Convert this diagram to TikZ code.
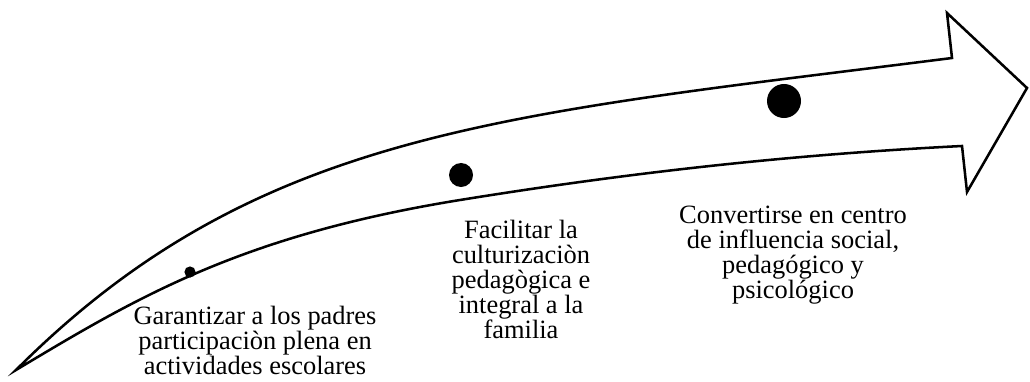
\documentclass[tikz,border=0pt]{standalone}
\usepackage{fontspec}
\setmainfont{Liberation Serif}
\usetikzlibrary{positioning}

\tikzset{
  outline/.style={line width=1.8pt, line join=miter},
  hito/.style={circle, fill=black, draw=none, inner sep=0pt},
  hitotext/.style={align=center, anchor=north, inner sep=0pt,
    font=\fontsize{18.8}{17.8}\selectfont}
}

\begin{document}
\begin{tikzpicture}[x=0.025cm, y=-0.025cm]
  \useasboundingbox (0,0) rectangle (1030,381);

  % Curved arrow: upper edge, head, lower edge back to the tail
  \coordinate (tail) at (16,370);
  \coordinate (mid) at (460,200);
  \draw[outline] (tail) .. controls (256,130) and (502,115) .. (952,58)
    -- (947,13) -- (1027,88) -- (967,192) -- (962,146)
    .. controls (792,154.5) and (630,172.5) .. (mid)
    .. controls (240,235.6) and (136,298) .. (tail)
    -- cycle;

  % Milestones on the arrow
  \node[hito, minimum size=0.28cm] (d1) at (190,272) {};
  \node[hito, minimum size=0.6cm] (d2) at (461,175) {};
  \node[hito, minimum size=0.85cm] (d3) at (784,101) {};

  % Texts under the milestones
  \node[hitotext] (t1) at (255,306) {Garantizar a los padres\\participaciòn plena en\\actividades escolares};
  \node[hitotext] (t2) at (521,220) {Facilitar la\\culturizaciòn\\pedagògica e\\integral a la\\familia};
  \node[hitotext] (t3) at (793,206) {Convertirse en centro\\de influencia social,\\pedagógico y\\psicológico};
\end{tikzpicture}
\end{document}
